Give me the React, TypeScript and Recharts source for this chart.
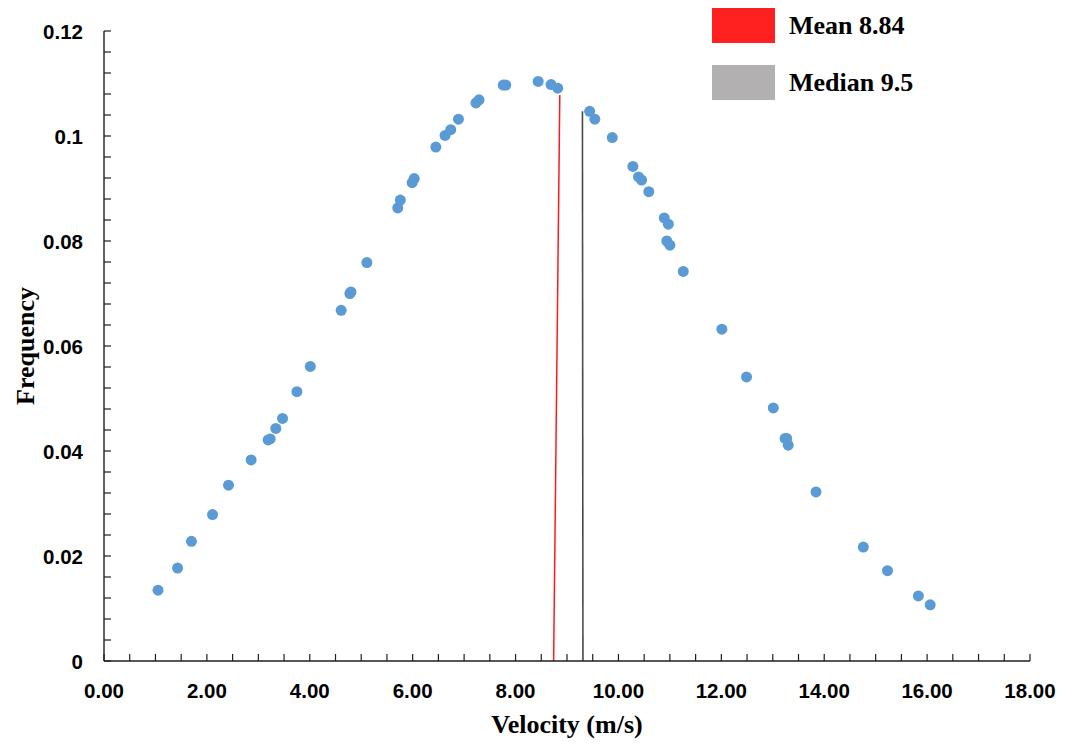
import React from "react"
import {
  ScatterChart,
  Scatter,
  XAxis,
  YAxis,
  ReferenceLine,
  Legend,
} from "recharts"

// velocity (m/s) of each sample and its frequency
const velocity = [
  1.05, 1.43, 1.7, 2.11, 2.42, 2.86, 3.19, 3.23, 3.34, 3.47, 3.75, 4.01, 4.61,
  4.78, 4.8, 5.11, 5.71, 5.76, 5.99, 6.03, 6.45, 6.63, 6.74, 6.89, 7.23, 7.29,
  7.76, 7.81, 8.44, 8.69, 8.82, 9.44, 9.54, 9.88, 10.28, 10.39, 10.45, 10.59,
  10.89, 10.97, 10.94, 11.0, 11.26, 12.01, 12.49, 13.01, 13.24, 13.27, 13.3,
  13.84, 14.76, 15.23, 15.83, 16.06,
]
const frequency = [
  0.0135, 0.0177, 0.0228, 0.0279, 0.0335, 0.0383, 0.0421, 0.0423, 0.0443,
  0.0462, 0.0513, 0.0561, 0.0668, 0.07, 0.0703, 0.0759, 0.0863, 0.0878, 0.0911,
  0.0919, 0.0979, 0.1001, 0.1012, 0.1032, 0.1063, 0.1069, 0.1097, 0.1097,
  0.1104, 0.1098, 0.1091, 0.1047, 0.1032, 0.0997, 0.0942, 0.0922, 0.0916,
  0.0894, 0.0844, 0.0832, 0.08, 0.0792, 0.0742, 0.0632, 0.0541, 0.0482, 0.0424,
  0.0424, 0.0411, 0.0322, 0.0217, 0.0172, 0.0124, 0.0107,
]

// marker lines as drawn (slightly slanted in the original)
const meanLine = [
  { x: 8.74, y: 0 },
  { x: 8.86, y: 0.1078 },
]
const medianLine = [
  { x: 9.31, y: 0 },
  { x: 9.3, y: 0.1047 },
]

const legendItems = [
  { label: "Mean 8.84", color: "#ff2020" },
  { label: "Median 9.5", color: "#b2b0b0" },
]

const xLabelTicks = [0, 2, 4, 6, 8, 10, 12, 14, 16, 18]
const yLabelTicks = [0, 0.02, 0.04, 0.06, 0.08, 0.1, 0.12]

// minor tick marks: every 0.5 on x, every 0.004 on y
const xTicks = Array.from({ length: 37 }, (_, i) => i * 0.5)
const yTicks = Array.from({ length: 31 }, (_, i) => i * 0.004)

const points = velocity.map((v, i) => ({ x: v, y: frequency[i] }))

const axisColor = "#1f1f1f"
const tickFont = '"Liberation Sans", Arial, sans-serif'
const titleFont = '"Liberation Serif", "Times New Roman", serif'

const isLabelled = (value: number, list: number[]) =>
  list.some((t) => Math.abs(t - value) < 1e-6)

const XTick = (props: any) => {
  const { x, y, payload } = props
  const v = payload.value
  return (
    <g>
      <line x1={x} x2={x} y1={y} y2={y - 7} stroke={axisColor} strokeWidth={1.2} />
      {isLabelled(v, xLabelTicks) && (
        <text
          x={x}
          y={y + 29}
          textAnchor="middle"
          dominantBaseline="central"
          fontFamily={tickFont}
          fontWeight="bold"
          fontSize={20.5}
          fill="#000"
        >
          {v.toFixed(2)}
        </text>
      )}
    </g>
  )
}

const YTick = (props: any) => {
  const { x, y, payload } = props
  const v = payload.value
  return (
    <g>
      <line x1={x} x2={x + 7} y1={y} y2={y} stroke={axisColor} strokeWidth={1.2} />
      {isLabelled(v, yLabelTicks) && (
        <text
          x={x - 21}
          y={y}
          textAnchor="end"
          dominantBaseline="central"
          fontFamily={tickFont}
          fontWeight="bold"
          fontSize={20.5}
          fill="#000"
        >
          {String(Math.round(v * 100) / 100)}
        </text>
      )}
    </g>
  )
}

const Dot = (props: any) => {
  const { cx, cy } = props
  return <circle cx={cx} cy={cy} r={5.5} fill="#5b9bd5" />
}

const LegendBox = () => (
  <div style={{ fontFamily: titleFont, fontWeight: "bold", fontSize: 26, color: "#000" }}>
    {legendItems.map((item, i) => (
      <div
        key={item.label}
        style={{ display: "flex", alignItems: "center", height: 35, marginBottom: i === 0 ? 22 : 0 }}
      >
        <div style={{ width: 63, height: 35, background: item.color, marginLeft: 8 }} />
        <span style={{ marginLeft: 14, lineHeight: "35px", whiteSpace: "nowrap" }}>{item.label}</span>
      </div>
    ))}
  </div>
)

export default function App() {
  return (
    <ScatterChart
      width={1060}
      height={737}
      margin={{ top: 23, right: 38, bottom: 0, left: 0 }}
    >
      <XAxis
        type="number"
        dataKey="x"
        domain={[0, 18]}
        ticks={xTicks}
        interval={0}
        height={84}
        tickSize={0}
        tickMargin={0}
        tick={<XTick />}
        axisLine={{ stroke: axisColor, strokeWidth: 1.4 }}
        label={(p: any) => {
          const vb = p.viewBox
          return (
            <text
              x={vb.x + vb.width / 2}
              y={vb.y + 72}
              textAnchor="middle"
              fontFamily={titleFont}
              fontWeight="bold"
              fontSize={26}
              fill="#000"
            >
              Velocity (m/s)
            </text>
          )
        }}
      />
      <YAxis
        type="number"
        dataKey="y"
        domain={[0, 0.12]}
        ticks={yTicks}
        interval={0}
        width={96}
        tickSize={0}
        tickMargin={0}
        tick={<YTick />}
        axisLine={{ stroke: axisColor, strokeWidth: 1.4 }}
        label={(p: any) => {
          const vb = p.viewBox
          const cx = vb.x + 17
          const cy = vb.y + vb.height / 2
          return (
            <text
              x={cx}
              y={cy}
              transform={`rotate(-90, ${cx}, ${cy})`}
              textAnchor="middle"
              dominantBaseline="central"
              fontFamily={titleFont}
              fontWeight="bold"
              fontSize={26}
              fill="#000"
            >
              Frequency
            </text>
          )
        }}
      />
      <Legend
        layout="horizontal"
        verticalAlign="middle"
        align="center"
        wrapperStyle={{ top: 0, left: 696, width: 260, height: 100 }}
        content={<LegendBox />}
      />
      <Scatter data={points} shape={<Dot />} isAnimationActive={false} />
      <ReferenceLine segment={meanLine} stroke="#ff1a1a" strokeWidth={1.5} />
      <ReferenceLine segment={medianLine} stroke="#4a4a4a" strokeWidth={1.6} />
    </ScatterChart>
  )
}
